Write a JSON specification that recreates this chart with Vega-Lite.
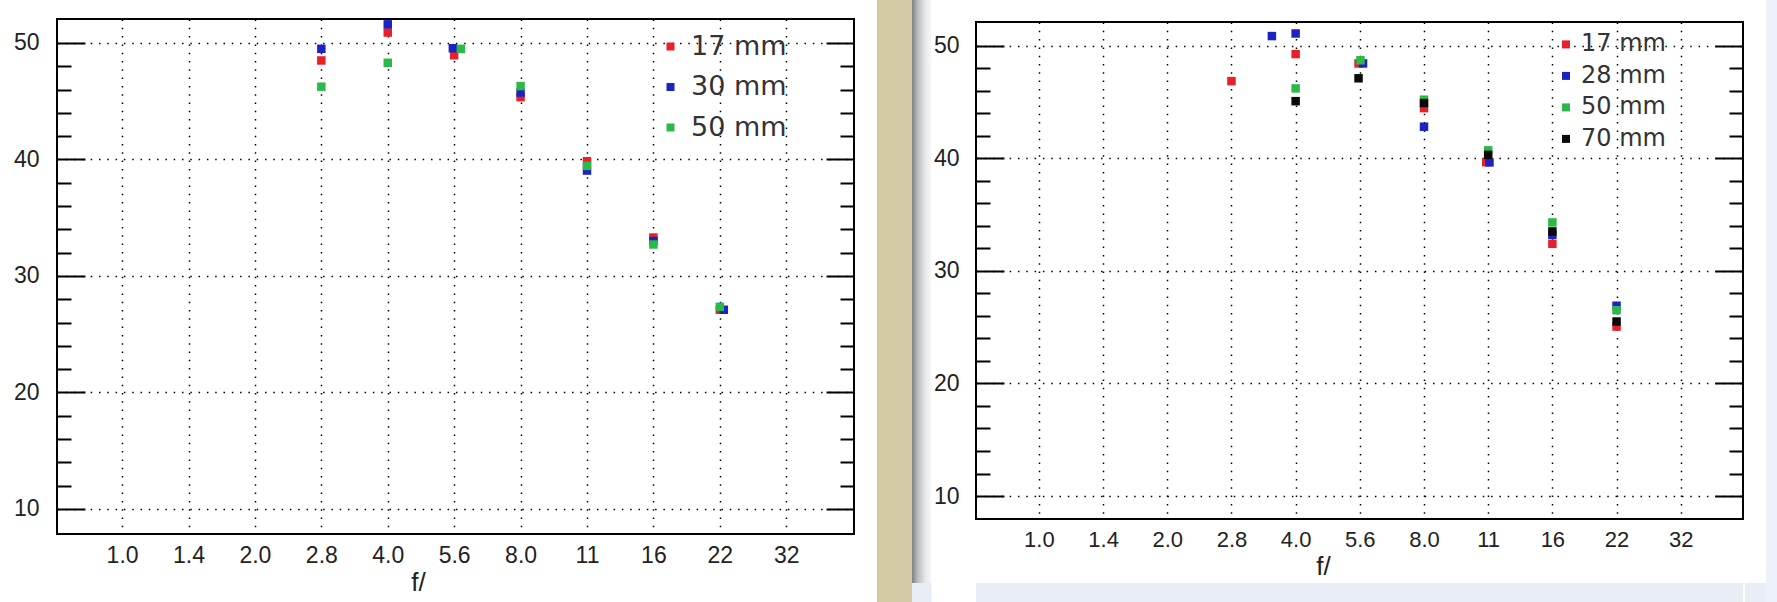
{
  "$schema": "https://vega.github.io/schema/vega-lite/v6.json",
  "padding": 0,
  "background": "white",
  "spacing": 0,
  "config": {"view": {"stroke": null}},
  "datasets": {
    "left": [
      {"lens": "17 mm", "stop": 3, "score": 48.5},
      {"lens": "17 mm", "stop": 4, "score": 50.9},
      {"lens": "17 mm", "stop": 5, "score": 48.95},
      {"lens": "17 mm", "stop": 6, "score": 45.35},
      {"lens": "17 mm", "stop": 7, "score": 39.85},
      {"lens": "17 mm", "stop": 8, "score": 33.3},
      {"lens": "17 mm", "stop": 9, "score": 27.1},
      {"lens": "30 mm", "stop": 3, "score": 49.5},
      {"lens": "30 mm", "stop": 4, "score": 51.6},
      {"lens": "30 mm", "stop": 4.98, "score": 49.55},
      {"lens": "30 mm", "stop": 6, "score": 45.75},
      {"lens": "30 mm", "stop": 7, "score": 39.05},
      {"lens": "30 mm", "stop": 8, "score": 33.0},
      {"lens": "30 mm", "stop": 9.06, "score": 27.1},
      {"lens": "50 mm", "stop": 3, "score": 46.25},
      {"lens": "50 mm", "stop": 4, "score": 48.3},
      {"lens": "50 mm", "stop": 5.1, "score": 49.5},
      {"lens": "50 mm", "stop": 6, "score": 46.3},
      {"lens": "50 mm", "stop": 7, "score": 39.45},
      {"lens": "50 mm", "stop": 8, "score": 32.7},
      {"lens": "50 mm", "stop": 9, "score": 27.35}
    ],
    "right": [
      {"lens": "17 mm", "stop": 3, "score": 46.85},
      {"lens": "17 mm", "stop": 4, "score": 49.25},
      {"lens": "17 mm", "stop": 4.98, "score": 48.42},
      {"lens": "17 mm", "stop": 6, "score": 44.45},
      {"lens": "17 mm", "stop": 6.97, "score": 39.65},
      {"lens": "17 mm", "stop": 8, "score": 32.4},
      {"lens": "17 mm", "stop": 9, "score": 25.05},
      {"lens": "28 mm", "stop": 3.63, "score": 50.85},
      {"lens": "28 mm", "stop": 4, "score": 51.08},
      {"lens": "28 mm", "stop": 5.05, "score": 48.42},
      {"lens": "28 mm", "stop": 6, "score": 42.8},
      {"lens": "28 mm", "stop": 7.02, "score": 39.63},
      {"lens": "28 mm", "stop": 8, "score": 33.2},
      {"lens": "28 mm", "stop": 9, "score": 26.9},
      {"lens": "50 mm", "stop": 4, "score": 46.2},
      {"lens": "50 mm", "stop": 5.01, "score": 48.7},
      {"lens": "50 mm", "stop": 6, "score": 45.2},
      {"lens": "50 mm", "stop": 7, "score": 40.7},
      {"lens": "50 mm", "stop": 8, "score": 34.3},
      {"lens": "50 mm", "stop": 9, "score": 26.5},
      {"lens": "70 mm", "stop": 4, "score": 45.07},
      {"lens": "70 mm", "stop": 4.98, "score": 47.1},
      {"lens": "70 mm", "stop": 6, "score": 44.9},
      {"lens": "70 mm", "stop": 7, "score": 40.3},
      {"lens": "70 mm", "stop": 8, "score": 33.5},
      {"lens": "70 mm", "stop": 9, "score": 25.5}
    ],
    "blank": [{"k": 0}]
  },
  "resolve": {"scale": {"color": "independent"}, "legend": {"color": "independent"}},
  "hconcat": [
    {"width": 11.4, "height": 602, "data": {"name": "blank"}, "mark": {"type": "point", "opacity": 0}, "view": {"fill": "white", "stroke": null}},
    {
      "vconcat": [
        {"width": 797, "height": 19, "data": {"name": "blank"}, "mark": {"type": "point", "opacity": 0}, "view": {"fill": "white", "stroke": null}},
        {
          "width": 797, "height": 515,
          "data": {"name": "left"},
          "view": {"stroke": "#000", "strokeWidth": 2, "fill": "white"},
          "layer": [
            {
              "mark": {"type": "point", "shape": "square", "filled": true, "size": 72, "opacity": 1, "strokeWidth": 0},
              "encoding": {
                "x": {"field": "stop", "type": "quantitative",
                  "scale": {"domain": [-0.98, 11.02], "nice": false, "zero": false},
                  "axis": {"orient": "bottom", "values": [0,1,2,3,4,5,6,7,8,9,10],
                    "labelExpr": "['1.0','1.4','2.0','2.8','4.0','5.6','8.0','11','16','22','32'][datum.value]",
                    "ticks": false, "domain": false, "grid": true, "gridColor": "#000", "gridDash": [1.5, 6.8], "gridWidth": 1.5, "gridOpacity": 1,
                    "labelFont": "Liberation Sans", "labelFontSize": 23, "labelColor": "#222", "labelPadding": 10, "labelFlush": false, "labelOverlap": false,
                    "title": "f/", "titleFont": "Liberation Sans", "titleFontSize": 26, "titleFontWeight": "normal", "titleColor": "#222",
                    "titleX": 361, "titleY": 56, "titleBaseline": "alphabetic", "titleAlign": "center"}},
                "y": {"field": "score", "type": "quantitative",
                  "scale": {"domain": [7.85, 52.06], "nice": false, "zero": false},
                  "axis": {"orient": "left", "values": [10,12,14,16,18,20,22,24,26,28,30,32,34,36,38,40,42,44,46,48,50],
                    "labelExpr": "datum.value % 10 === 0 ? datum.label : ''",
                    "domain": false, "ticks": true, "tickSize": -28, "tickColor": "#000", "tickWidth": 2,
                    "tickDash": {"condition": {"test": "datum.value % 10 === 0", "value": [30, 1]}, "value": [14, 100]},
                    "grid": true, "gridColor": "#000", "gridDash": [1.5, 6.8], "gridWidth": 1.5,
                    "gridOpacity": {"condition": {"test": "datum.value % 10 === 0", "value": 1}, "value": 0},
                    "labelFont": "Liberation Sans", "labelFontSize": 23, "labelColor": "#222", "labelPadding": 46, "labelOverlap": false,
                    "title": null}},
                "color": {"field": "lens", "type": "nominal",
                  "scale": {"domain": ["17 mm", "30 mm", "50 mm"], "range": ["#e8202a", "#1e22c0", "#2db84a"]},
                  "legend": {"orient": "none", "legendX": 600, "legendY": 33, "title": null, "symbolType": "square", "symbolSize": 64,
                    "symbolStrokeWidth": 0, "symbolOpacity": 1, "labelFont": "DejaVu Sans", "labelFontSize": 27, "labelColor": "#333",
                    "rowPadding": 12.5, "labelOffset": 7, "padding": 0}}
              }
            },
            {
              "mark": {"type": "point", "opacity": 0},
              "encoding": {
                "y": {"field": "score", "type": "quantitative",
                  "axis": {"orient": "right", "values": [10,12,14,16,18,20,22,24,26,28,30,32,34,36,38,40,42,44,46,48,50],
                    "labels": false, "domain": false, "grid": false, "ticks": true, "tickSize": -28, "tickColor": "#000", "tickWidth": 2,
                    "tickDash": {"condition": {"test": "datum.value % 10 === 0", "value": [30, 1]}, "value": [14, 100]},
                    "title": null}}
              }
            }
          ],
          "resolve": {"axis": {"y": "independent"}}
        }
      ],
      "spacing": 0,
      "bounds": "flush"
    },
    {"width": 21, "height": 602, "data": {"name": "blank"}, "mark": {"type": "point", "opacity": 0}, "view": {"fill": "white", "stroke": null}},
    {"width": 35, "height": 602, "data": {"name": "blank"}, "mark": {"type": "point", "opacity": 0}, "view": {"fill": "#d4c9a5", "stroke": null}},
    {
      "vconcat": [
        {"width": 19.4, "height": 583, "data": {"name": "blank"}, "mark": {"type": "point", "opacity": 0},
          "view": {"stroke": null, "fill": {"gradient": "linear", "x1": 0, "x2": 1, "y1": 0, "y2": 0,
            "stops": [{"offset": 0, "color": "#7d8186"}, {"offset": 0.3, "color": "#b9bcc0"}, {"offset": 0.7, "color": "#e8e9eb"}, {"offset": 1, "color": "#f8f8f8"}]}}},
        {"width": 19.4, "height": 19, "data": {"name": "blank"}, "mark": {"type": "point", "opacity": 0}, "view": {"fill": "#e9eef6", "stroke": null}}
      ],
      "spacing": 0,
      "bounds": "flush"
    },
    {
      "vconcat": [
        {"width": 767, "height": 22, "data": {"name": "blank"}, "mark": {"type": "point", "opacity": 0}, "view": {"fill": "white", "stroke": null}},
        {
          "width": 767, "height": 497,
          "data": {"name": "right"},
          "view": {"stroke": "#000", "strokeWidth": 2, "fill": "white"},
          "layer": [
            {
              "mark": {"type": "point", "shape": "square", "filled": true, "size": 72, "opacity": 1, "strokeWidth": 0},
              "encoding": {
                "x": {"field": "stop", "type": "quantitative",
                  "scale": {"domain": [-0.98, 10.97], "nice": false, "zero": false},
                  "axis": {"orient": "bottom", "values": [0,1,2,3,4,5,6,7,8,9,10],
                    "labelExpr": "['1.0','1.4','2.0','2.8','4.0','5.6','8.0','11','16','22','32'][datum.value]",
                    "ticks": false, "domain": false, "grid": true, "gridColor": "#000", "gridDash": [1.5, 6.8], "gridWidth": 1.5, "gridOpacity": 1,
                    "labelFont": "Liberation Sans", "labelFontSize": 22, "labelColor": "#222", "labelPadding": 10, "labelFlush": false, "labelOverlap": false,
                    "title": "f/", "titleFont": "Liberation Sans", "titleFontSize": 26, "titleFontWeight": "normal", "titleColor": "#222",
                    "titleX": 347, "titleY": 55, "titleBaseline": "alphabetic", "titleAlign": "center"}},
                "y": {"field": "score", "type": "quantitative",
                  "scale": {"domain": [7.96, 52.1], "nice": false, "zero": false},
                  "axis": {"orient": "left", "values": [10,12,14,16,18,20,22,24,26,28,30,32,34,36,38,40,42,44,46,48,50],
                    "labelExpr": "datum.value % 10 === 0 ? datum.label : ''",
                    "domain": false, "ticks": true, "tickSize": -28, "tickColor": "#000", "tickWidth": 2,
                    "tickDash": {"condition": {"test": "datum.value % 10 === 0", "value": [30, 1]}, "value": [14, 100]},
                    "grid": true, "gridColor": "#000", "gridDash": [1.5, 6.8], "gridWidth": 1.5,
                    "gridOpacity": {"condition": {"test": "datum.value % 10 === 0", "value": 1}, "value": 0},
                    "labelFont": "Liberation Sans", "labelFontSize": 23, "labelColor": "#222", "labelPadding": 45, "labelOverlap": false,
                    "title": null}},
                "color": {"field": "lens", "type": "nominal",
                  "scale": {"domain": ["17 mm", "28 mm", "50 mm", "70 mm"], "range": ["#e8202a", "#1e22c0", "#2db84a", "#0a0a0a"]},
                  "legend": {"orient": "none", "legendX": 578, "legendY": 32.4, "title": null, "symbolType": "square", "symbolSize": 64,
                    "symbolStrokeWidth": 0, "symbolOpacity": 1, "labelFont": "DejaVu Sans", "labelFontSize": 24, "labelColor": "#333",
                    "rowPadding": 7.5, "labelOffset": 3, "padding": 0}}
              }
            },
            {
              "mark": {"type": "point", "opacity": 0},
              "encoding": {
                "y": {"field": "score", "type": "quantitative",
                  "axis": {"orient": "right", "values": [10,12,14,16,18,20,22,24,26,28,30,32,34,36,38,40,42,44,46,48,50],
                    "labels": false, "domain": false, "grid": false, "ticks": true, "tickSize": -28, "tickColor": "#000", "tickWidth": 2,
                    "tickDash": {"condition": {"test": "datum.value % 10 === 0", "value": [30, 1]}, "value": [14, 100]},
                    "title": null}}
              }
            }
          ],
          "resolve": {"axis": {"y": "independent"}}
        },
        {"width": 767, "height": 64, "data": {"name": "blank"}, "mark": {"type": "point", "opacity": 0}, "view": {"fill": null, "stroke": null}},
        {"width": 767, "height": 19, "data": {"name": "blank"}, "mark": {"type": "point", "opacity": 0}, "view": {"fill": "#e9eef6", "stroke": null}}
      ],
      "spacing": 0,
      "bounds": "flush"
    },
    {
      "vconcat": [
        {"width": 21, "height": 583, "data": {"name": "blank"}, "mark": {"type": "point", "opacity": 0}, "view": {"fill": "white", "stroke": null}},
        {"width": 21, "height": 19, "data": {"name": "blank"}, "mark": {"type": "point", "opacity": 0}, "view": {"fill": "#e9eef6", "stroke": null}}
      ],
      "spacing": 0,
      "bounds": "flush"
    },
    {"width": 17, "height": 602, "data": {"name": "blank"}, "mark": {"type": "point", "opacity": 0}, "view": {"fill": "#edf1f9", "stroke": null}}
  ]
}
